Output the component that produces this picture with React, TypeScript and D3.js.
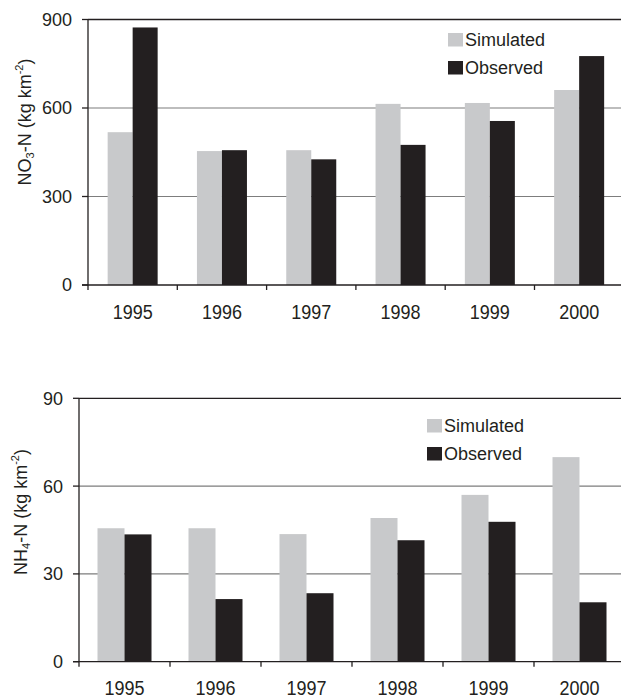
import React from "react";
import * as d3 from "d3";

const years = ["1995", "1996", "1997", "1998", "1999", "2000"];
const no3Simulated = [518, 454, 457, 614, 617, 661];
const no3Observed = [873, 457, 426, 475, 556, 776];
const nh4Simulated = [45.6, 45.6, 43.6, 49.1, 57.0, 69.9];
const nh4Observed = [43.5, 21.4, 23.4, 41.5, 47.8, 20.3];
const no3Ticks = [0, 300, 600, 900];
const nh4Ticks = [0, 30, 60, 90];
const seriesNames = ["Simulated", "Observed"];

const SIM = "#c8c9cb";
const OBS = "#231f20";
const AXIS = "#231f20";
const GRID = "#7d7d7d";
const FONT = "Liberation Sans, Arial, sans-serif";

type PanelProps = {
  sim: number[];
  obs: number[];
  ticks: number[];
  x0: number;
  step: number;
  yTop: number;
  yBottom: number;
  outerPad: number;
  labelMain: string;
  labelSub: string;
  labelX: number;
  labelY: number;
  legendX: number;
  legendY: number;
  xLabelY: number;
};

function Panel(p: PanelProps) {
  const x = d3.scaleBand<string>().domain(years).range([p.x0, p.x0 + p.step * years.length]).padding(0);
  const inner = d3.scaleBand<string>().domain(seriesNames).range([0, x.bandwidth()]).paddingInner(0).paddingOuter(p.outerPad);
  const maxV = p.ticks[p.ticks.length - 1];
  const y = d3.scaleLinear().domain([0, maxV]).range([p.yBottom, p.yTop]);
  const series = [p.sim, p.obs];
  const colors = [SIM, OBS];
  return (
    <g fontFamily={FONT}>
      {p.ticks.filter((t) => t > 0 && t < maxV).map((t) => (
        <line key={"g" + t} x1={p.x0} x2={p.x0 + p.step * 6 + 10} y1={y(t)} y2={y(t)} stroke={GRID} strokeWidth={1.2} />
      ))}
      <line x1={p.x0} x2={p.x0 + p.step * 6 + 10} y1={y(maxV)} y2={y(maxV)} stroke={AXIS} strokeWidth={1.3} />
      {years.map((yr, i) =>
        series.map((s, j) => (
          <rect
            key={yr + j}
            x={(x(yr) as number) + (inner(seriesNames[j]) as number)}
            y={y(s[i])}
            width={inner.bandwidth()}
            height={p.yBottom - y(s[i])}
            fill={colors[j]}
          />
        ))
      )}
      <line x1={p.x0} x2={p.x0} y1={p.yTop} y2={p.yBottom + 5} stroke={AXIS} strokeWidth={1.3} />
      <line x1={p.x0 - 6} x2={p.x0 + p.step * 6 + 10} y1={p.yBottom} y2={p.yBottom} stroke={AXIS} strokeWidth={1.3} />
      {p.ticks.map((t) => (
        <g key={"t" + t}>
          <line x1={p.x0 - 6} x2={p.x0} y1={y(t)} y2={y(t)} stroke={AXIS} strokeWidth={1.3} />
          <text x={p.x0 - 16} y={y(t)} dy="0.36em" textAnchor="end" fontSize={18} fill="#231f20">
            {t}
          </text>
        </g>
      ))}
      {years.map((yr, i) => (
        <g key={"x" + yr}>
          <line x1={p.x0 + p.step * (i + 1)} x2={p.x0 + p.step * (i + 1)} y1={p.yBottom} y2={p.yBottom + 5} stroke={AXIS} strokeWidth={1.3} />
          <text
            transform={`translate(${(x(yr) as number) + x.bandwidth() / 2},${p.xLabelY}) scale(1,1.09)`}
            textAnchor="middle"
            fontSize={18}
            fill="#231f20"
          >
            {yr}
          </text>
        </g>
      ))}
      <text transform={`translate(${p.labelX},${p.labelY}) rotate(-90)`} textAnchor="middle" fontSize={18} fill="#231f20">
        <tspan>{p.labelMain}</tspan>
        <tspan fontSize={11} dy={3}>{p.labelSub}</tspan>
        <tspan dy={-3}>-N (kg km</tspan>
        <tspan fontSize={11} dy={-8}>-2</tspan>
        <tspan dy={8}>)</tspan>
      </text>
      {seriesNames.map((n, j) => (
        <g key={"l" + n}>
          <rect x={p.legendX} y={p.legendY + j * 28 - 13} width={15} height={13.5} fill={colors[j]} />
          <text x={p.legendX + 17} y={p.legendY + j * 28} fontSize={18} fill="#231f20">
            {n}
          </text>
        </g>
      ))}
    </g>
  );
}

export default function App() {
  return (
    <svg width={621} height={698} style={{ position: "absolute", left: 0, top: 0, background: "#fff" }}>
      <rect width={621} height={698} fill="#fff" />
      <Panel
        sim={no3Simulated}
        obs={no3Observed}
        ticks={no3Ticks}
        x0={88}
        step={89.3}
        yTop={19.5}
        yBottom={285}
        outerPad={0.786}
        labelMain="NO"
        labelSub="3"
        labelX={31}
        labelY={122}
        legendX={448}
        legendY={46}
        xLabelY={319}
      />
      <Panel
        sim={nh4Simulated}
        obs={nh4Observed}
        ticks={nh4Ticks}
        x0={79}
        step={91}
        yTop={398.3}
        yBottom={661.7}
        outerPad={0.685}
        labelMain="NH"
        labelSub="4"
        labelX={27}
        labelY={512}
        legendX={427}
        legendY={432}
        xLabelY={695}
      />
    </svg>
  );
}
